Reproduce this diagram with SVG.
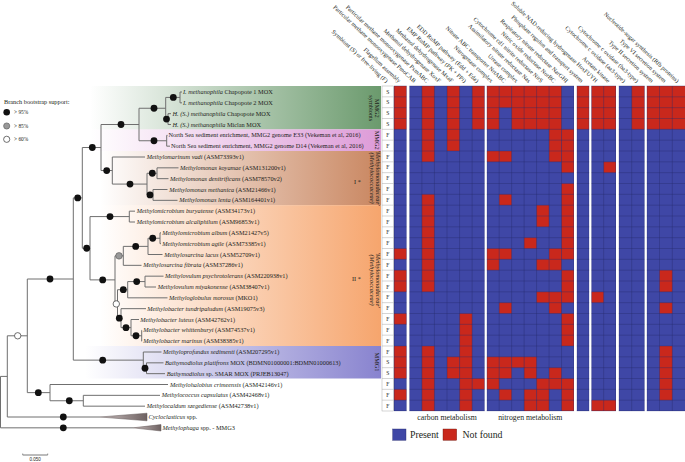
<svg xmlns="http://www.w3.org/2000/svg" width="685" height="462" viewBox="0 0 685 462">
<style>
.t{font-family:"Liberation Serif","DejaVu Serif",serif;fill:#231f20}
.i{font-style:italic}
.lb{font-size:6.3px}
.hd{font-size:6px}
.sf{font-size:5.6px;text-anchor:middle}
.b{fill:#3f47a6}
.r{fill:#c9281c}
.tree{fill:none;stroke:#6f6f6f;stroke-width:1}
.nb{fill:#111}
.ng{fill:#999;stroke:#555;stroke-width:0.6}
.nw{fill:#fff;stroke:#333;stroke-width:0.7}
.grid{fill:none;stroke:#262b6b;stroke-width:0.5;stroke-opacity:0.75}
</style>
<defs>
<linearGradient id="gG" gradientUnits="userSpaceOnUse" x1="90" y1="0" x2="381" y2="0"><stop offset="0" stop-color="#6b9a6d" stop-opacity="0"/><stop offset="1" stop-color="#6b9a6d"/></linearGradient>
<linearGradient id="gP" gradientUnits="userSpaceOnUse" x1="90" y1="0" x2="381" y2="0"><stop offset="0" stop-color="#dd9bd8" stop-opacity="0"/><stop offset="1" stop-color="#dd9bd8"/></linearGradient>
<linearGradient id="gO1" gradientUnits="userSpaceOnUse" x1="100" y1="0" x2="381" y2="0"><stop offset="0" stop-color="#c98660" stop-opacity="0"/><stop offset="1" stop-color="#c98660"/></linearGradient>
<linearGradient id="gO2" gradientUnits="userSpaceOnUse" x1="100" y1="0" x2="381" y2="0"><stop offset="0" stop-color="#f6a56d" stop-opacity="0"/><stop offset="1" stop-color="#f6a56d"/></linearGradient>
<linearGradient id="gU" gradientUnits="userSpaceOnUse" x1="85" y1="0" x2="381" y2="0"><stop offset="0" stop-color="#8883cf" stop-opacity="0"/><stop offset="1" stop-color="#8883cf"/></linearGradient>
<linearGradient id="gT" x1="0" y1="0" x2="1" y2="0"><stop offset="0" stop-color="#c9bdbd"/><stop offset="1" stop-color="#6e6262"/></linearGradient>
</defs>

<g id="bands">
<rect x="90" y="86" width="291" height="43.33" fill="url(#gG)"/>
<rect x="90" y="129.33" width="291" height="21.67" fill="url(#gP)"/>
<rect x="100" y="151" width="281" height="54.17" fill="url(#gO1)"/>
<rect x="100" y="205.17" width="281" height="140.83" fill="url(#gO2)"/>
<rect x="85" y="346" width="296" height="32.5" fill="url(#gU)"/>
<g class="t lb">
<text transform="translate(375,108.3) rotate(90)" text-anchor="middle">MMG2</text>
<text transform="translate(369.2,108.3) rotate(90)" text-anchor="middle">symbionts</text>
<text transform="translate(375,140.2) rotate(90)" text-anchor="middle">MMG2</text>
<text class="i" transform="translate(375.5,178) rotate(90)" text-anchor="middle">'Methylomonadaceae'</text>
<text class="i" transform="translate(369.5,178) rotate(90)" text-anchor="middle">(Methylococcaceae)</text>
<text x="354" y="184">I *</text>
<text class="i" transform="translate(375.5,280) rotate(90)" text-anchor="middle">'Methylomonadaceae'</text>
<text class="i" transform="translate(369.5,280) rotate(90)" text-anchor="middle">(Methylococcaceae)</text>
<text x="352" y="281">II *</text>
<text transform="translate(375,362) rotate(90)" text-anchor="middle">MMG1</text>
</g>
</g>

<g id="legend-bootstrap" class="t">
<text x="4" y="103.5" style="font-size:6.3px">Branch bootstrap support:</text>
<circle class="nb" cx="6.7" cy="112.3" r="3.3"/>
<circle class="ng" cx="6.7" cy="126" r="3.1"/>
<circle class="nw" cx="6.7" cy="139.3" r="3.1"/>
<text x="14" y="114.3" style="font-size:5.4px">&gt; 95%</text>
<text x="14" y="128" style="font-size:5.4px">&gt; 85%</text>
<text x="14" y="141.3" style="font-size:5.4px">&gt; 60%</text>
</g>

<g id="connectors" class="tree">
<path d="M0.5 376.4V427.83M0.5 376.4H7.3M0.5 427.83H133
M7.3 335.8V417M7.3 335.8H27.3M7.3 417H100
M27.3 279V392.63M27.3 279H73.3M27.3 392.63H50
M50 384.5V400.75M50 384.5H168M50 400.75H83.3
M83.3 395.33V406.17M83.3 395.33H160M83.3 406.17H145
M73.3 197.88V360.13M73.3 197.88H82.3M73.3 360.13H143.3
M143.3 352V368.25M143.3 352H161.5M143.3 368.25H146.5
M146.5 362.83V373.67M146.5 362.83H163.5M146.5 373.67H165
M82.3 147.52V248.23M82.3 147.52H101M82.3 248.23H90
M101 124.5V170.54M101 124.5H139M101 170.54H112.3
M139 108.25V140.75M139 108.25H165.7M139 140.75H166.7
M165.7 97.42V119.08M165.7 97.42H180M165.7 119.08H168
M180 92V102.83M180 92H182M180 102.83H182
M168 113.67V124.5M168 113.67H171M168 124.5H171
M166.7 135.33V146.17M166.7 135.33H167.5M166.7 146.17H170
M112.3 157V184.08M112.3 157H145M112.3 184.08H147
M147 173.25V194.92M147 173.25H157M147 194.92H153
M157 167.83V178.67M157 167.83H178.5M157 178.67H168.5
M153 189.5V200.33M153 189.5H167.5M153 200.33H177.5
M90 216.58V279.89M90 216.58H129.3M90 279.89H115
M129.3 211.17V222M129.3 211.17H135M129.3 222H135
M115 255.85V303.93M115 255.85H123.3M115 303.93H117.5
M123.3 246.38V265.33M123.3 246.38H148M123.3 265.33H141.5
M148 238.25V254.5M148 238.25H160M148 254.5H162.5
M160 232.83V243.67M160 232.83H161M160 243.67H161
M117.5 289.71V318.15M117.5 289.71H127.7M117.5 318.15H121
M127.7 281.58V297.83M127.7 281.58H145M127.7 297.83H167.5
M145 276.17V287M145 276.17H163.5M145 287H156
M121 308.67V327.63M121 308.67H146M121 327.63H131
M131 319.5V335.75M131 319.5H139M131 335.75H141.7
M141.7 330.33V341.17M141.7 330.33H142M141.7 341.17H142"/>
<polygon points="100,417 147,413.2 147,420.8" fill="url(#gT)" stroke="#5e5454" stroke-width="0.5"/>
<polygon points="133,427.83 161,424.6 161,431" fill="url(#gT)" stroke="#5e5454" stroke-width="0.5"/>
<line x1="22.7" y1="455" x2="47.7" y2="455" stroke="#555" stroke-width="0.8"/>
<path d="M22.7 453.5V455M47.7 453.5V455" stroke="#555" stroke-width="0.6"/>
</g>

<g id="nodes">
<circle class="nb" cx="173.3" cy="97.42" r="3.4"/>
<circle class="nb" cx="166.5" cy="119.08" r="3.4"/>
<circle class="nb" cx="154" cy="108.25" r="3.4"/>
<circle class="nb" cx="154" cy="140.75" r="3.4"/>
<circle class="nb" cx="121" cy="124.5" r="3.4"/>
<circle class="nb" cx="152.3" cy="173.25" r="3.4"/>
<circle class="nb" cx="150" cy="194.92" r="3.4"/>
<circle class="nb" cx="130" cy="184.08" r="3.4"/>
<circle class="nb" cx="106.7" cy="170.54" r="3.4"/>
<circle class="nb" cx="92.3" cy="147.52" r="3.4"/>
<circle class="nb" cx="110" cy="216.58" r="3.4"/>
<circle class="nb" cx="152.7" cy="238.25" r="3.4"/>
<circle class="nb" cx="135.7" cy="246.38" r="3.4"/>
<circle class="ng" cx="119" cy="255.85" r="3.3"/>
<circle class="nb" cx="136.7" cy="281.58" r="3.4"/>
<circle class="nb" cx="123.3" cy="289.71" r="3.4"/>
<circle class="nb" cx="136" cy="335.75" r="3.4"/>
<circle class="nb" cx="126" cy="327.63" r="3.4"/>
<circle class="nb" cx="119.3" cy="318.15" r="3.4"/>
<circle class="nw" cx="116.3" cy="303.93" r="3.2"/>
<circle class="nb" cx="102.7" cy="279.89" r="3.4"/>
<circle class="nb" cx="86.7" cy="248.23" r="3.4"/>
<circle class="nb" cx="77.7" cy="197.88" r="3.4"/>
<circle class="nb" cx="145" cy="368.25" r="3.4"/>
<circle class="nb" cx="102.7" cy="360.13" r="3.4"/>
<circle class="nb" cx="50" cy="279" r="3.4"/>
<circle class="nb" cx="69.3" cy="400.75" r="3.4"/>
<circle class="nb" cx="38.3" cy="392.63" r="3.4"/>
<circle class="nw" cx="17.7" cy="335.8" r="3.2"/>
<circle class="nb" cx="63.3" cy="417" r="3.4"/>
<circle class="nb" cx="63.3" cy="427.83" r="3.4"/>
</g>

<g id="leaves" class="t lb">
<text x="183" y="94.1"><tspan class="i">I. methanophila</tspan>  Chapopote 1  MOX</text>
<text x="183" y="104.9"><tspan class="i">I. methanophila</tspan> Chapopote 2 MOX</text>
<text x="172.5" y="115.8"><tspan class="i">H. (S.) methanophila</tspan> Chapopote MOX</text>
<text x="172.5" y="126.6"><tspan class="i">H. (S.) methanophila</tspan> Miclan  MOX</text>
<text x="168.5" y="137.4">North Sea sediment enrichment, MMG2 genome E33  (Vekeman et al, 2016)</text>
<text x="171" y="148.3">North Sea sediment enrichment, MMG2 genome D14 (Vekeman et al, 2016)</text>
<text x="146.7" y="159.1"><tspan class="i">Methylomarinum vadi</tspan> (ASM73393v1)</text>
<text x="180" y="169.9"><tspan class="i">Methylomonas koyamae</tspan>  (ASM131200v1)</text>
<text x="170" y="180.8"><tspan class="i">Methylomonas denitrificans</tspan> (ASM78570v2)</text>
<text x="169.3" y="191.6"><tspan class="i">Methylomonas methanica</tspan> (ASM21466v1)</text>
<text x="179.3" y="202.4"><tspan class="i">Methylomonas lenta</tspan> (ASM164401v1)</text>
<text x="136.7" y="213.3"><tspan class="i">Methylomicrobium buryatense</tspan> (ASM34173v1)</text>
<text x="136.7" y="224.1"><tspan class="i">Methylomicrobium alcaliphilum</tspan> (ASM96853v1)</text>
<text x="162.3" y="234.9"><tspan class="i">Methylomicrobium album</tspan> (ASM21427v5)</text>
<text x="162.3" y="245.8"><tspan class="i">Methylomicrobium agile</tspan> (ASM73385v1)</text>
<text x="164.3" y="256.6"><tspan class="i">Methylosarcina lacus</tspan> (ASM52709v1)</text>
<text x="143.3" y="267.4"><tspan class="i">Methylosarcina fibrata</tspan> (ASM37286v1)</text>
<text x="165" y="278.3"><tspan class="i">Methylovulum psychrotolerans</tspan> (ASM220938v1)</text>
<text x="157.7" y="289.1"><tspan class="i">Methylovulum miyakonense</tspan> (ASM38407v1)</text>
<text x="169" y="299.9"><tspan class="i">Methyloglobulus morosus</tspan> (MKO1)</text>
<text x="147.3" y="310.8"><tspan class="i">Methylobacter tundripaludum</tspan> (ASM19075v3)</text>
<text x="140.3" y="321.6"><tspan class="i">Methylobacter luteus</tspan> (ASM42762v1)</text>
<text x="143.3" y="332.4"><tspan class="i">Methylobacter whittenburyi</tspan>  (ASM74537v1)</text>
<text x="143.3" y="343.3"><tspan class="i">Methylobacter marinus</tspan> (ASM38385v1)</text>
<text x="163" y="354.1"><tspan class="i">Methyloprofundus sedimenti</tspan> (ASM207295v1)</text>
<text x="165" y="364.9"><tspan class="i">Bathymodiolus platifrons</tspan> MOX (BDMN01000001:BDMN01000613)</text>
<text x="166.7" y="375.8"><tspan class="i">Bathymodiolus</tspan> sp. SMAR MOX (PRJEB13047)</text>
<text x="170" y="386.6"><tspan class="i">Methylohalobius crimeensis</tspan> (ASM42146v1)</text>
<text x="161.7" y="397.4"><tspan class="i">Methylococcus capsulatus</tspan> (ASM42468v1)</text>
<text x="146.7" y="408.3"><tspan class="i">Methylocaldum szegediense</tspan> (ASM42738v1)</text>
<text x="148.5" y="419.1"><tspan class="i">Cycloclasticus</tspan> spp.</text>
<text x="162.5" y="429.9"><tspan class="i">Methylophaga</tspan> spp. - MMG3</text>
<text x="35.2" y="461" text-anchor="middle" style="font-size:4.5px;font-family:'Liberation Sans',sans-serif">0.050</text>
</g>

<g id="heatmap">
<g id="sf-column">
<rect x="382" y="86" width="11.5" height="325" fill="#fff" stroke="#aaa" stroke-width="0.5"/>
<path d="M382 96.83H393.5M382 107.67H393.5M382 118.5H393.5M382 129.33H393.5M382 140.17H393.5M382 151H393.5M382 161.83H393.5M382 172.67H393.5M382 183.5H393.5M382 194.33H393.5M382 205.17H393.5M382 216H393.5M382 226.83H393.5M382 237.67H393.5M382 248.5H393.5M382 259.33H393.5M382 270.17H393.5M382 281H393.5M382 291.83H393.5M382 302.67H393.5M382 313.5H393.5M382 324.33H393.5M382 335.17H393.5M382 346H393.5M382 356.83H393.5M382 367.67H393.5M382 378.5H393.5M382 389.33H393.5M382 400.17H393.5" stroke="#aaa" stroke-width="0.5"/>
<g class="t sf">
<text x="387.8" y="93.5">S</text><text x="387.8" y="104.3">S</text><text x="387.8" y="115.2">S</text><text x="387.8" y="126">S</text>
<text x="387.8" y="136.8">F</text><text x="387.8" y="147.7">F</text><text x="387.8" y="158.5">F</text><text x="387.8" y="169.3">F</text>
<text x="387.8" y="180.2">F</text><text x="387.8" y="191">F</text><text x="387.8" y="201.8">F</text><text x="387.8" y="212.7">F</text>
<text x="387.8" y="223.5">F</text><text x="387.8" y="234.3">F</text><text x="387.8" y="245.2">F</text><text x="387.8" y="256">F</text>
<text x="387.8" y="266.8">F</text><text x="387.8" y="277.7">F</text><text x="387.8" y="288.5">F</text><text x="387.8" y="299.3">F</text>
<text x="387.8" y="310.2">F</text><text x="387.8" y="321">F</text><text x="387.8" y="331.8">F</text><text x="387.8" y="342.7">F</text>
<text x="387.8" y="353.5">F</text><text x="387.8" y="364.3">S</text><text x="387.8" y="375.2">S</text><text x="387.8" y="386">F</text>
<text x="387.8" y="396.8">F</text><text x="387.8" y="407.7">F</text>
</g>
</g>
<g id="cells-blue">
<rect class="b" x="394" y="86" width="12.7" height="325"/>
<rect class="b" x="409.3" y="86" width="75.42" height="325"/>
<rect class="b" x="486.7" y="86" width="87.29" height="325"/>
<rect class="b" x="576.7" y="86" width="12.6" height="325"/>
<rect class="b" x="591.3" y="86" width="24.7" height="325"/>
<rect class="b" x="618.7" y="86" width="26" height="325"/>
<rect class="b" x="646.7" y="86" width="38.4" height="325"/>
</g>
<g id="cells-red">
<rect class="r" x="394" y="86" width="12.7" height="43.33"/>
<rect class="r" x="394" y="248.5" width="12.7" height="10.83"/>
<rect class="r" x="394" y="270.17" width="12.7" height="21.67"/>
<rect class="r" x="394" y="313.5" width="12.7" height="10.83"/>
<rect class="r" x="394" y="346" width="12.7" height="32.5"/>
<rect class="r" x="394" y="389.33" width="12.7" height="10.83"/>
<rect class="r" x="421.87" y="86" width="12.57" height="75.83"/>
<rect class="r" x="421.87" y="194.33" width="12.57" height="97.5"/>
<rect class="r" x="421.87" y="346" width="12.57" height="65"/>
<rect class="r" x="447.01" y="86" width="12.57" height="65"/>
<rect class="r" x="447.01" y="356.83" width="12.57" height="21.67"/>
<rect class="r" x="459.58" y="313.5" width="12.57" height="97.5"/>
<rect class="r" x="472.15" y="86" width="12.57" height="43.33"/>
<rect class="r" x="472.15" y="378.5" width="12.57" height="10.83"/>
<rect class="r" x="486.7" y="86" width="12.47" height="43.33"/>
<rect class="r" x="486.7" y="151" width="12.47" height="10.83"/>
<rect class="r" x="486.7" y="248.5" width="12.47" height="21.67"/>
<rect class="r" x="486.7" y="356.83" width="12.47" height="32.5"/>
<rect class="r" x="499.17" y="86" width="12.47" height="21.67"/>
<rect class="r" x="499.17" y="151" width="12.47" height="10.83"/>
<rect class="r" x="499.17" y="194.33" width="12.47" height="10.83"/>
<rect class="r" x="499.17" y="248.5" width="12.47" height="10.83"/>
<rect class="r" x="499.17" y="302.67" width="12.47" height="10.83"/>
<rect class="r" x="499.17" y="356.83" width="12.47" height="21.67"/>
<rect class="r" x="499.17" y="389.33" width="12.47" height="10.83"/>
<rect class="r" x="511.64" y="86" width="37.41" height="43.33"/>
<rect class="r" x="511.64" y="356.83" width="12.47" height="10.83"/>
<rect class="r" x="524.11" y="237.67" width="12.47" height="10.83"/>
<rect class="r" x="524.11" y="356.83" width="12.47" height="21.67"/>
<rect class="r" x="524.11" y="389.33" width="12.47" height="21.67"/>
<rect class="r" x="536.58" y="205.17" width="12.47" height="21.67"/>
<rect class="r" x="536.58" y="259.33" width="12.47" height="10.83"/>
<rect class="r" x="536.58" y="291.83" width="12.47" height="10.83"/>
<rect class="r" x="536.58" y="378.5" width="12.47" height="32.5"/>
<rect class="r" x="549.05" y="86" width="12.47" height="75.83"/>
<rect class="r" x="549.05" y="248.5" width="12.47" height="21.67"/>
<rect class="r" x="549.05" y="291.83" width="12.47" height="21.67"/>
<rect class="r" x="549.05" y="367.67" width="12.47" height="21.67"/>
<rect class="r" x="561.52" y="129.33" width="12.47" height="43.33"/>
<rect class="r" x="561.52" y="183.5" width="12.47" height="75.83"/>
<rect class="r" x="561.52" y="270.17" width="12.47" height="32.5"/>
<rect class="r" x="561.52" y="313.5" width="12.47" height="32.5"/>
<rect class="r" x="561.52" y="378.5" width="12.47" height="32.5"/>
<rect class="r" x="576.7" y="86" width="12.6" height="43.33"/>
<rect class="r" x="591.3" y="86" width="24.7" height="43.33"/>
<rect class="r" x="591.3" y="291.83" width="12.35" height="10.83"/>
<rect class="r" x="591.3" y="400.17" width="24.7" height="10.83"/>
<rect class="r" x="603.65" y="161.83" width="12.35" height="10.83"/>
<rect class="r" x="631.7" y="86" width="13" height="43.33"/>
<rect class="r" x="646.7" y="86" width="38.4" height="43.33"/>
<rect class="r" x="659.5" y="270.17" width="12.8" height="21.67"/>
<rect class="r" x="659.5" y="302.67" width="12.8" height="10.83"/>
<rect class="r" x="659.5" y="346" width="12.8" height="54.17"/>
</g>
<path class="grid" d="M394 96.83H685M394 107.67H685M394 118.5H685M394 129.33H685M394 140.17H685M394 151H685M394 161.83H685M394 172.67H685M394 183.5H685M394 194.33H685M394 205.17H685M394 216H685M394 226.83H685M394 237.67H685M394 248.5H685M394 259.33H685M394 270.17H685M394 281H685M394 291.83H685M394 302.67H685M394 313.5H685M394 324.33H685M394 335.17H685M394 346H685M394 356.83H685M394 367.67H685M394 378.5H685M394 389.33H685M394 400.17H685
M421.87 86V411M434.44 86V411M447.01 86V411M459.58 86V411M472.15 86V411M499.17 86V411M511.64 86V411M524.11 86V411M536.58 86V411M549.05 86V411M561.52 86V411M603.65 86V411M631.7 86V411M659.5 86V411M672.3 86V411
M394.25 86V411M406.45 86V411M409.55 86V411M484.47 86V411M486.95 86V411M573.74 86V411M576.95 86V411M589.05 86V411M591.55 86V411M615.75 86V411M618.95 86V411M644.45 86V411M646.95 86V411M394 86H685M394 410.75H685"/>
<g fill="#fff">
<rect x="406.7" y="84" width="2.6" height="329"/>
<rect x="484.72" y="84" width="1.98" height="329"/>
<rect x="573.99" y="84" width="2.71" height="329"/>
<rect x="589.3" y="84" width="2" height="329"/>
<rect x="616" y="84" width="2.7" height="329"/>
<rect x="644.7" y="84" width="2" height="329"/>
</g>
</g>

<g id="headers" class="t hd" text-anchor="end">
<text transform="translate(385.7,83) rotate(43)">Symbiont (S) or free-living (F)</text>
<text transform="translate(398.4,83) rotate(43)">Flagellum assembly</text>
<text transform="translate(413.6,83) rotate(43)">Particular methane monooxygenase PmoCAB</text>
<text transform="translate(426.2,83) rotate(43)">Particular methane monooxygenase PxmABC</text>
<text transform="translate(438.7,83) rotate(43)">Methanol dehydrogenase XoxF</text>
<text transform="translate(451.3,83) rotate(43)">Methanol dehydrogenase MxaF</text>
<text transform="translate(463.9,83) rotate(43)">EMP RuMP pathway (PK + PPi)</text>
<text transform="translate(476.4,83) rotate(43)">EDD RuMP pathway (Edd + Eda)</text>
<text transform="translate(490.9,83) rotate(43)">Nitrogenase complex</text>
<text transform="translate(503.4,83) rotate(43)">Nitrate ABC transporter NrtABC</text>
<text transform="translate(515.9,83) rotate(43)">Urease complex</text>
<text transform="translate(528.3,83) rotate(43)">Assimilatory nitrate reductase Nas</text>
<text transform="translate(540.8,83) rotate(43)">Cytochrome cd1 nitrite reductase NirS</text>
<text transform="translate(553.3,83) rotate(43)">Nitric oxide reductase NorBC</text>
<text transform="translate(565.8,83) rotate(43)">Respiratory nitrate reductase NarGHI</text>
<text transform="translate(581,83) rotate(43)">Phosphate regulon and transport system</text>
<text transform="translate(595.5,83) rotate(43)">Soluble NAD-reducing hydrogenase HoxFUYH</text>
<text transform="translate(607.8,83) rotate(43)">Acetate kinase</text>
<text transform="translate(623.2,83) rotate(43)">Cytochrome c oxidase (aa3-type)</text>
<text transform="translate(636.2,83) rotate(43)">Cytochrome c oxidase (ba3-type)</text>
<text transform="translate(651.1,83) rotate(43)">Type II secretion system</text>
<text transform="translate(663.9,83) rotate(43)">Type VI secretion system</text>
<text transform="translate(676.7,83) rotate(43)">Nucleotide-sugar synthesis (Rfb proteins)</text>
</g>

<g id="footer" class="t">
<text x="447" y="419.5" text-anchor="middle" style="font-size:7.8px">carbon metabolism</text>
<text x="530.3" y="419.5" text-anchor="middle" style="font-size:7.8px">nitrogen metabolism</text>
<rect class="b" x="392.7" y="429" width="13.3" height="11.3" stroke="#262b6b" stroke-width="0.4"/>
<text x="410" y="438.3" style="font-size:9.8px">Present</text>
<rect class="r" x="443" y="429" width="13.7" height="11.3" stroke="#6b1a12" stroke-width="0.4"/>
<text x="462.5" y="438.3" style="font-size:9.8px">Not found</text>
</g>
</svg>
